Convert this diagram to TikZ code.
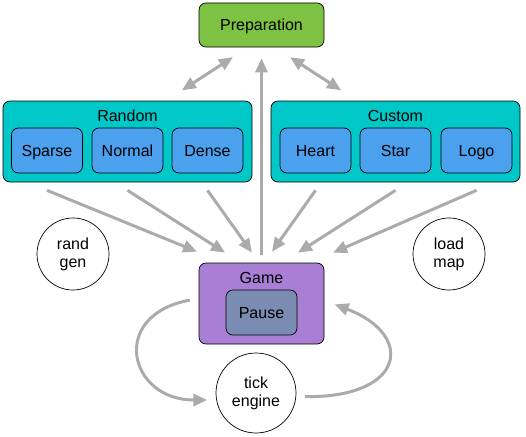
\documentclass[tikz,border=0pt]{standalone}
\usepackage{fontspec}
\setmainfont{Liberation Sans}
\usetikzlibrary{arrows.meta}
\definecolor{prepgreen}{HTML}{7DC242}
\definecolor{clustercyan}{HTML}{00C8C8}
\definecolor{modeblue}{HTML}{4BA1EE}
\definecolor{gamepurple}{HTML}{A97FD6}
\definecolor{pauseslate}{HTML}{7B8CB2}
\definecolor{flowgray}{HTML}{ABABAB}
\begin{document}
\begin{tikzpicture}[x=1pt,y=-1pt,font=\fontsize{16}{18}\selectfont]
							\tikzstyle{state}=[draw=black,line width=0.7pt,rounded corners=7pt,inner sep=0pt,align=center,text height=11.5pt,text depth=0pt]
							\tikzstyle{mode}=[state,fill=modeblue,minimum width=71pt,minimum height=45pt]
							\tikzstyle{cluster}=[state,fill=clustercyan,minimum width=249pt,minimum height=81pt]
							\tikzstyle{title}=[text height=11.5pt,text depth=0pt,inner sep=0pt]
							\tikzstyle{task}=[circle,draw=black,line width=0.7pt,minimum size=72pt,inner sep=0pt,align=center,fill=white]
							\tikzstyle{flow}=[draw=flowgray,line width=3pt,-{Triangle[length=14pt,width=12pt]}]
							\tikzstyle{both}=[draw=flowgray,line width=3pt,{Triangle[length=14pt,width=12pt]}-{Triangle[length=14pt,width=12pt]}]
							\useasboundingbox (0,0) rectangle (526,436);
							\node[state,fill=prepgreen,minimum width=125pt,minimum height=44pt] (prep) at (261.5,25) {Preparation};
							\node[cluster] (random) at (127.5,141.5) {};
							\node[title] (randomlabel) at (127.5,115.5) {Random};
							\node[cluster] (custom) at (395.5,141.5) {};
							\node[title] (customlabel) at (395.5,115.5) {Custom};
							\node[mode] (sparse) at (47,150.5) {Sparse};
							\node[mode] (normal) at (127.5,150.5) {Normal};
							\node[mode] (dense) at (207.5,150.5) {Dense};
							\node[mode] (heart) at (315.5,150.5) {Heart};
							\node[mode] (star) at (395.5,150.5) {Star};
							\node[mode] (logo) at (476.5,150.5) {Logo};
							\node[state,fill=gamepurple,minimum width=125pt,minimum height=81pt] (game) at (261.5,303.5) {};
							\node[title] (gamelabel) at (261.5,277.5) {Game};
							\node[state,fill=pauseslate,minimum width=71pt,minimum height=45pt] (pause) at (261.5,312.5) {Pause};
							\node[task] (randgen) at (73,254) {rand\\gen};
							\node[task] (loadmap) at (449,254) {load\\map};
							\node[task,minimum size=80pt] (tick) at (256,393) {tick\\engine};
							\draw[both,shorten <=19pt,shorten >=18pt] ([xshift=38.5pt]random.north) -- ([xshift=-13.5pt]prep.south);
							\draw[both,shorten <=19pt,shorten >=18pt] ([xshift=-38.5pt]custom.north) -- ([xshift=13.5pt]prep.south);
							\draw[flow,shorten <=8pt,shorten >=11pt] (game.north) -- (prep.south);
							\draw[flow] ([yshift=-17pt]sparse.south) -- ([xshift=-64.5pt,yshift=11pt]game.north);
							\draw[flow] ([yshift=-17pt]normal.south) -- ([xshift=-36.5pt,yshift=10pt]game.north);
							\draw[flow] ([yshift=-17pt]dense.south) -- ([xshift=-9.5pt,yshift=10pt]game.north);
							\draw[flow] ([yshift=-17pt]heart.south) -- ([xshift=10.5pt,yshift=11pt]game.north);
							\draw[flow] ([yshift=-17pt]star.south) -- ([xshift=36.5pt,yshift=10pt]game.north);
							\draw[flow] ([yshift=-17pt]logo.south) -- ([xshift=71.5pt,yshift=10pt]game.north);
							\draw[flow,shorten <=9pt,shorten >=9pt] ([yshift=5pt]game.west) .. controls +(-90,16.5) and +(-88,0) .. (tick.190);
							\draw[flow,shorten <=9pt,shorten >=11pt] (tick.-5) .. controls +(109,1.5) and +(91,34.5) .. ([yshift=3pt]game.east);
							\end{tikzpicture}
\end{document}
